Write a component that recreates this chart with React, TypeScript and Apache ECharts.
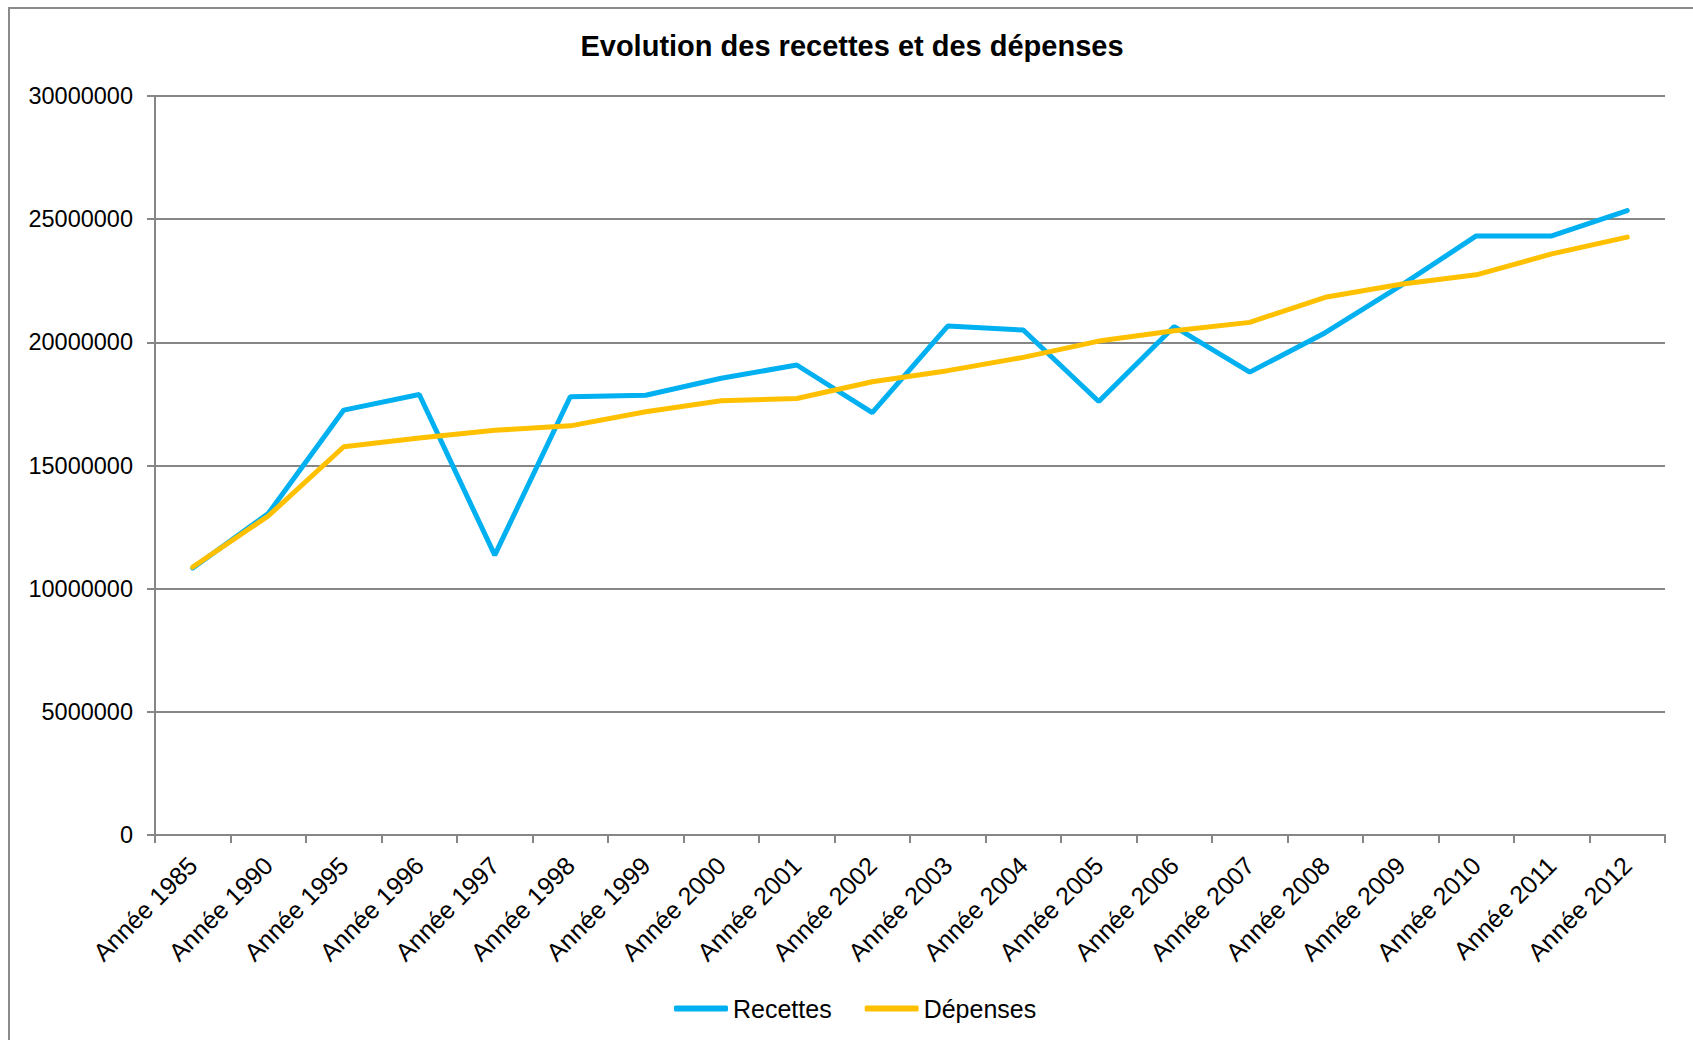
import React, { useEffect, useRef } from "react";
import * as echarts from "echarts";

const categories = [
  "Année 1985", "Année 1990", "Année 1995", "Année 1996", "Année 1997",
  "Année 1998", "Année 1999", "Année 2000", "Année 2001", "Année 2002",
  "Année 2003", "Année 2004", "Année 2005", "Année 2006", "Année 2007",
  "Année 2008", "Année 2009", "Année 2010", "Année 2011", "Année 2012",
];

const recettes = [
  10840000, 13050000, 17250000, 17880000, 11360000,
  17790000, 17850000, 18540000, 19080000, 17150000,
  20660000, 20500000, 17600000, 20640000, 18790000,
  20390000, 22300000, 24320000, 24320000, 25350000,
];

const depenses = [
  10880000, 12950000, 15760000, 16120000, 16430000,
  16610000, 17180000, 17630000, 17720000, 18400000,
  18850000, 19390000, 20050000, 20470000, 20810000,
  21830000, 22360000, 22740000, 23590000, 24270000,
];

const yMin = 0;
const yMax = 30000000;
const yInterval = 5000000;

const titleText = "Evolution des recettes et des dépenses";
const seriesNames = ["Recettes", "Dépenses"];

const FONT = "'Liberation Sans', Arial, sans-serif";

export default function App() {
  const ref = useRef<HTMLDivElement>(null);

  useEffect(() => {
    if (!ref.current) return;
    const chart = echarts.init(ref.current, undefined, { renderer: "svg" });
    const axisGray = "#868686";
    chart.setOption({
      animation: false,
      backgroundColor: "#ffffff",
      graphic: [
        {
          type: "rect",
          shape: { x: 9, y: 8, width: 1800, height: 1200 },
          style: { fill: "none", stroke: "#8a8a8a", lineWidth: 2 },
          silent: true,
        },
        {
          type: "text",
          x: 852,
          y: 46,
          style: {
            text: titleText,
            font: `bold 29px ${FONT}`,
            fill: "#000000",
            textAlign: "center",
            textVerticalAlign: "middle",
          },
        },
      ],
      legend: {
        data: seriesNames,
        left: 669,
        top: 991,
        icon: "roundRect",
        itemWidth: 54,
        itemHeight: 6,
        itemGap: 33,
        textStyle: { fontFamily: FONT, fontSize: 25, color: "#000" },
      },
      grid: { left: 155, right: 28, top: 96, bottom: 205, containLabel: false },
      xAxis: {
        type: "category",
        data: categories,
        boundaryGap: true,
        axisLine: { show: true, lineStyle: { color: axisGray, width: 2 } },
        axisTick: { show: true, alignWithLabel: false, length: 8, lineStyle: { color: axisGray, width: 2 } },
        axisLabel: {
          interval: 0,
          rotate: 45,
          margin: 26,
          fontFamily: FONT,
          fontSize: 25,
          color: "#000",
        },
        splitLine: { show: false },
      },
      yAxis: {
        type: "value",
        min: yMin,
        max: yMax,
        interval: yInterval,
        axisLine: { show: true, lineStyle: { color: axisGray, width: 2 } },
        axisTick: { show: true, length: 8, lineStyle: { color: axisGray, width: 2 } },
        axisLabel: {
          margin: 22,
          fontFamily: FONT,
          fontSize: 23.5,
          color: "#000",
          formatter: (v: number) => String(v),
        },
        splitLine: { show: true, lineStyle: { color: axisGray, width: 2 } },
      },
      series: [
        {
          name: seriesNames[0],
          type: "line",
          data: recettes,
          symbol: "none",
          color: "#00B0F0",
          lineStyle: { width: 5, color: "#00B0F0", cap: "round" },
        },
        {
          name: seriesNames[1],
          type: "line",
          data: depenses,
          symbol: "none",
          color: "#FFC000",
          lineStyle: { width: 5, color: "#FFC000", cap: "round" },
        },
      ],
    });
    return () => chart.dispose();
  }, []);

  return (
    <div
      ref={ref}
      style={{ position: "absolute", left: 0, top: 0, width: 1693, height: 1040 }}
    />
  );
}
